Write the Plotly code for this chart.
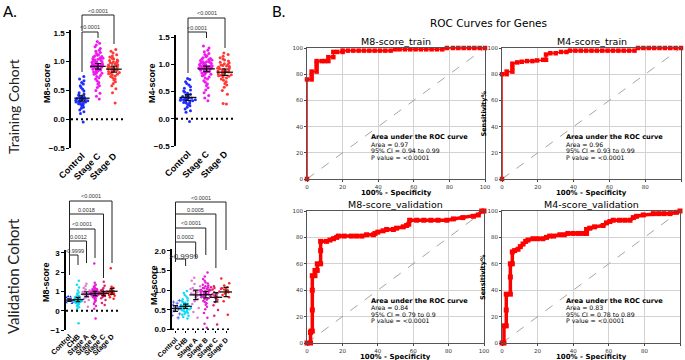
import numpy as np
import plotly.graph_objects as go

W, H = 685, 360
def fx(p): return p / W
def fy(p): return 1 - p / H

# ---------------- data ----------------
train_groups = ["Control", "Stage C", "Stage D"]
val_groups = ["Control", "CHB", "Stage A", "Stage B", "Stage C", "Stage D"]

tr_m8_control = [-0.05, 0.10, 0.13, 0.16, 0.19, 0.21, 0.23, 0.25, 0.26, 0.27, 0.28, 0.29, 0.30, 0.30, 0.31, 0.32, 0.32, 0.33, 0.33, 0.34, 0.34, 0.35, 0.35, 0.36, 0.36, 0.37, 0.38, 0.39, 0.40, 0.42, 0.44, 0.46, 0.49, 0.52, 0.55, 0.58, 0.61, 0.64, 0.67, 0.70, 0.74]
tr_m8_stagec = [0.35, 0.40, 0.45, 0.50, 0.55, 0.58, 0.61, 0.64, 0.67, 0.70, 0.72, 0.74, 0.76, 0.78, 0.79, 0.80, 0.81, 0.82, 0.83, 0.84, 0.85, 0.86, 0.86, 0.87, 0.88, 0.88, 0.89, 0.90, 0.90, 0.91, 0.91, 0.92, 0.92, 0.93, 0.93, 0.94, 0.94, 0.95, 0.95, 0.96, 0.97, 0.97, 0.98, 0.99, 0.99, 1.00, 1.00, 1.01, 1.02, 1.03, 1.04, 1.05, 1.05, 1.06, 1.07, 1.08, 1.09, 1.10, 1.11, 1.12, 1.14, 1.16, 1.18, 1.20, 1.23, 1.26, 1.29, 1.32, 1.35]
tr_m8_staged = [0.28, 0.46, 0.53, 0.58, 0.62, 0.65, 0.68, 0.70, 0.72, 0.74, 0.75, 0.77, 0.78, 0.79, 0.80, 0.81, 0.82, 0.83, 0.84, 0.85, 0.85, 0.86, 0.87, 0.88, 0.88, 0.89, 0.90, 0.90, 0.91, 0.92, 0.93, 0.94, 0.95, 0.96, 0.97, 0.98, 0.99, 1.00, 1.01, 1.02, 1.03, 1.05, 1.06, 1.08, 1.10, 1.12, 1.15, 1.18, 1.21]

tr_m4_control = [-0.05, 0.12, 0.15, 0.18, 0.21, 0.24, 0.26, 0.28, 0.29, 0.30, 0.31, 0.32, 0.33, 0.34, 0.35, 0.35, 0.36, 0.37, 0.37, 0.38, 0.38, 0.39, 0.40, 0.41, 0.42, 0.43, 0.45, 0.47, 0.49, 0.51, 0.53, 0.56, 0.59, 0.62, 0.65, 0.68, 0.72, 0.74]
tr_m4_stagec = [0.33, 0.38, 0.43, 0.48, 0.53, 0.57, 0.61, 0.64, 0.67, 0.70, 0.73, 0.75, 0.77, 0.79, 0.80, 0.82, 0.83, 0.84, 0.85, 0.86, 0.87, 0.88, 0.89, 0.89, 0.90, 0.90, 0.91, 0.92, 0.92, 0.93, 0.93, 0.94, 0.94, 0.95, 0.95, 0.96, 0.96, 0.97, 0.97, 0.98, 0.98, 0.99, 1.00, 1.00, 1.01, 1.02, 1.02, 1.03, 1.04, 1.05, 1.05, 1.06, 1.07, 1.08, 1.09, 1.10, 1.11, 1.12, 1.14, 1.16, 1.18, 1.20, 1.23, 1.26, 1.30, 1.34]
tr_m4_staged = [0.27, 0.28, 0.45, 0.52, 0.58, 0.62, 0.65, 0.68, 0.71, 0.73, 0.75, 0.77, 0.78, 0.79, 0.80, 0.81, 0.82, 0.83, 0.84, 0.85, 0.86, 0.87, 0.87, 0.88, 0.89, 0.90, 0.90, 0.91, 0.92, 0.93, 0.94, 0.95, 0.96, 0.97, 0.98, 0.99, 1.00, 1.01, 1.03, 1.04, 1.06, 1.08, 1.10, 1.12, 1.15, 1.18, 1.21]

va_m8_control = [0.38, 0.42, 0.45, 0.47, 0.50, 0.52, 0.55, 0.58, 0.62, 0.68, 0.72, 0.75]
va_m8_chb = [-0.65, 0.10, 0.18, 0.25, 0.30, 0.33, 0.36, 0.38, 0.40, 0.42, 0.44, 0.45, 0.46, 0.48, 0.49, 0.50, 0.51, 0.52, 0.53, 0.54, 0.55, 0.56, 0.57, 0.58, 0.60, 0.61, 0.62, 0.64, 0.66, 0.68, 0.70, 0.72, 0.75, 0.78, 0.82, 0.88, 0.95, 1.05, 1.20, 1.35, 1.55]
va_m8_stagea = [0.20, 0.45, 0.55, 0.62, 0.68, 0.72, 0.76, 0.80, 0.83, 0.86, 0.88, 0.91, 0.94, 0.97, 1.00, 1.05, 1.10, 1.18, 1.28, 1.40]
va_m8_stageb = [-0.40, 0.10, 0.25, 0.35, 0.45, 0.52, 0.58, 0.62, 0.66, 0.70, 0.73, 0.75, 0.77, 0.79, 0.81, 0.83, 0.84, 0.85, 0.86, 0.87, 0.88, 0.89, 0.90, 0.91, 0.92, 0.93, 0.94, 0.95, 0.96, 0.97, 0.98, 0.99, 1.00, 1.01, 1.02, 1.04, 1.05, 1.07, 1.09, 1.11, 1.13, 1.16, 1.19, 1.23, 1.28, 1.35, 1.45, 2.45]
va_m8_stagec = [0.30, 0.40, 0.55, 0.65, 0.72, 0.77, 0.80, 0.83, 0.86, 0.88, 0.90, 0.92, 0.94, 0.96, 0.98, 1.00, 1.03, 1.06, 1.10, 1.18, 1.30, 1.50]
va_m8_staged = [0.62, 0.70, 0.78, 0.82, 0.86, 0.88, 0.90, 0.92, 0.94, 0.96, 0.98, 1.00, 1.02, 1.05, 1.10, 1.18, 1.25, 2.20]

va_m4_control = [0.30, 0.36, 0.40, 0.44, 0.48, 0.52, 0.55, 0.58, 0.61, 0.64, 0.67, 0.70, 0.74]
va_m4_chb = [0.28, 0.32, 0.35, 0.38, 0.40, 0.42, 0.44, 0.46, 0.47, 0.49, 0.50, 0.51, 0.52, 0.53, 0.54, 0.55, 0.56, 0.57, 0.58, 0.59, 0.60, 0.61, 0.62, 0.63, 0.64, 0.65, 0.66, 0.68, 0.70, 0.72, 0.74, 0.77, 0.80, 0.84, 0.88, 0.93, 0.98]
va_m4_stagea = [0.30, 0.45, 0.55, 0.65, 0.72, 0.78, 0.82, 0.86, 0.89, 0.92, 0.95, 0.98, 1.00, 1.03, 1.06, 1.10, 1.16, 1.24, 1.32]
va_m4_stageb = [0.05, 0.15, 0.30, 0.42, 0.52, 0.58, 0.63, 0.67, 0.70, 0.73, 0.76, 0.78, 0.80, 0.82, 0.84, 0.85, 0.86, 0.87, 0.88, 0.89, 0.90, 0.91, 0.92, 0.93, 0.94, 0.95, 0.96, 0.97, 0.98, 0.99, 1.00, 1.01, 1.02, 1.03, 1.05, 1.06, 1.08, 1.10, 1.12, 1.14, 1.17, 1.20, 1.24, 1.29, 1.35, 1.45]
va_m4_stagec = [0.13, 0.35, 0.50, 0.62, 0.70, 0.76, 0.80, 0.84, 0.87, 0.90, 0.92, 0.95, 0.97, 1.00, 1.02, 1.04, 1.06, 1.08, 1.10]
va_m4_staged = [0.38, 0.72, 0.82, 0.88, 0.92, 0.95, 0.98, 1.00, 1.02, 1.05, 1.08, 1.12, 1.18, 1.30]

# ROC curves (100% - specificity, sensitivity %)
roc_m8_train_fpr = [0, 0, 2.6, 2.6, 2.6, 5.4, 5.4, 5.4, 5.4, 8.2, 10, 12, 12, 14.8, 14.8, 17, 20, 20, 23, 26, 29, 32, 35, 38, 41, 44, 47, 49.6, 52, 55, 58, 61, 64, 67, 70, 73, 76, 78.6, 82, 85, 88, 91, 94, 97, 100]
roc_m8_train_tpr = [0, 76, 76, 79, 82, 82, 85, 88, 90, 90, 90, 90, 93, 93, 97, 97, 97, 98, 98, 98, 98, 98, 98, 98, 98, 98, 98, 99, 99, 99, 99, 99, 99, 99, 99, 99, 99, 100, 100, 100, 100, 100, 100, 100, 100]
roc_m4_train_fpr = [0, 0, 2.6, 2.6, 5.8, 5.8, 5.8, 8.5, 11, 14, 17, 19.6, 23, 24.6, 24.6, 27, 30, 33, 36, 38, 41, 44, 47, 50, 53, 56, 59, 62, 65, 68, 71, 74, 76, 79, 82, 85, 88, 91, 94, 97, 100]
roc_m4_train_tpr = [0, 80, 80, 82, 82, 85, 88, 89, 89.5, 90, 90, 90.5, 91, 91, 95, 96, 96, 97, 97, 98, 98, 98, 98, 98, 98, 98, 98, 98, 98, 98, 98, 98, 100, 100, 100, 100, 100, 100, 100, 100, 100]
roc_m8_val_fpr = [0, 2, 2, 2.3, 3, 3, 3, 3, 4.5, 4.5, 5.8, 5.8, 7.7, 7.7, 7.7, 11, 13, 15, 16.8, 17.7, 21, 25, 28, 31, 33.7, 37.5, 38.4, 40, 43, 45, 48.8, 50.6, 54.4, 56.3, 57.5, 58, 62, 66, 70, 74, 79, 82.7, 88, 94, 96.8, 98.7, 100]
roc_m8_val_tpr = [0, 0, 8, 9, 9, 25, 40, 51, 51, 55, 55, 60, 60, 70, 77, 77, 78, 79, 80, 81, 81, 81, 81, 81, 82, 82, 83, 84, 85, 86, 86, 87, 88, 89, 90, 93, 93, 93, 93, 93, 93, 94, 95, 96, 97, 100, 100]
roc_m4_val_fpr = [0, 1.1, 1.1, 2.4, 2.4, 2.4, 4.7, 4.7, 4.7, 5.8, 5.8, 7.1, 9, 10.3, 11.8, 13.3, 14.6, 17.4, 20, 23, 25, 26.8, 29, 32.5, 35, 37, 40, 43, 45.6, 47.5, 47.5, 49.3, 52, 56.8, 58.7, 60.6, 62.5, 66, 69, 71.9, 73.8, 75.6, 79.4, 85, 88, 91, 94.4, 98, 100]
roc_m4_val_tpr = [0, 0, 13, 13, 25, 37, 37, 50, 60, 60, 69, 70, 71, 73, 75, 77, 78, 79, 79, 79, 80, 81, 81, 82, 82, 83, 83, 83, 83, 83, 86, 87, 88, 89, 91, 92, 93, 93, 93, 93, 95, 96, 97, 98, 98, 98, 98, 99, 100]

roc_stats = {
    "M8-score_train": ("0.97", "0.94 to 0.99"),
    "M4-score_train": ("0.96", "0.93 to 0.99"),
    "M8-score_validation": ("0.84", "0.79 to 0.9"),
    "M4-score_validation": ("0.83", "0.78 to 0.89"),
}

train_colors = ["#1f2dff", "#f019f0", "#ff3838"]
val_colors = ["#1a22f0", "#12dcf5", "#e07ad6", "#e61ed6", "#e2206e", "#ff2020"]

# ---------------- figure ----------------
fig = go.Figure()
layout_axes = {}
shapes = []
annotations = []

def axnames(n):
    return ("x" if n == 1 else f"x{n}", "y" if n == 1 else f"y{n}",
            "xaxis" if n == 1 else f"xaxis{n}", "yaxis" if n == 1 else f"yaxis{n}")

DOTFONT = "Liberation Sans, Arial, sans-serif"
MPLFONT = "DejaVu Sans, sans-serif"

def add_dot_panel(n, xdom, ydom, xrange, yrange, groups, datasets, colors, symbols,
                  ytickvals, ytickfmt, box_w, msize, mean_w, cat_font, ytitle, ytitle_xy,
                  brackets, xticks=False):
    xa, ya, xk, yk = axnames(n)
    for i, (vals, c, s) in enumerate(zip(datasets, colors, symbols)):
        fig.add_trace(go.Box(x=[i] * len(vals), y=vals, xaxis=xa, yaxis=ya, boxpoints="all",
                             jitter=1, pointpos=0, width=box_w, fillcolor="rgba(0,0,0,0)",
                             line=dict(color="rgba(0,0,0,0)", width=0),
                             marker=dict(size=msize, color=c, symbol=s,
                                         line=dict(width=0.6 if "open" in s else 0, color=c)),
                             hoverinfo="skip", showlegend=False))
        arr = np.array(vals)
        m = arr.mean()
        ci = 1.96 * arr.std(ddof=1) / np.sqrt(len(arr))
        fig.add_trace(go.Scatter(x=[i], y=[m], xaxis=xa, yaxis=ya, mode="markers",
                                 marker=dict(symbol="line-ew", size=mean_w,
                                             line=dict(width=1.3, color="#111")),
                                 error_y=dict(type="data", array=[ci], width=mean_w * 0.28,
                                              thickness=1.2, color="#111"),
                                 showlegend=False, hoverinfo="skip"))
    layout_axes[xk] = dict(domain=[fx(xdom[0]), fx(xdom[1])], range=xrange, anchor=ya,
                           automargin=False,
                           showline=False, showgrid=False, zeroline=False, tickmode="array",
                           tickvals=list(range(len(groups))),
                           ticktext=[f"<b>{g}</b>" for g in groups], tickangle=-45,
                           tickfont=dict(family=DOTFONT, size=cat_font, color="black"),
                           ticks="outside" if xticks else "", ticklen=3, tickwidth=1.2,
                           tickcolor="black")
    layout_axes[yk] = dict(domain=[fy(ydom[1]), fy(ydom[0])], range=yrange, anchor=xa,
                           automargin=False,
                           showline=True, linecolor="black", linewidth=1.5, ticks="outside",
                           ticklen=3, tickwidth=1.2, tickcolor="black", tickmode="array",
                           tickvals=ytickvals, tickformat=ytickfmt, showgrid=False,
                           zeroline=False,
                           tickfont=dict(family=DOTFONT, size=8, color="black", weight="bold"))
    # dotted zero line
    shapes.append(dict(type="line", xref=f"{xa} domain", x0=0, x1=1, yref=ya, y0=0, y1=0,
                       line=dict(color="black", width=2, dash="2px,3px"), layer="above"))
    annotations.append(dict(text=f"<b>{ytitle}</b>", x=fx(ytitle_xy[0]), y=fy(ytitle_xy[1]),
                            xref="paper", yref="paper", showarrow=False, textangle=-90,
                            font=dict(family=DOTFONT, size=9, color="black")))
    for (i0, i1, yl, yleft, yright, txt, yt, fs) in brackets:
        shapes.append(dict(type="path", xref=xa, yref="paper",
                           path=f"M {i0},{fy(yleft)} L {i0},{fy(yl)} L {i1},{fy(yl)} L {i1},{fy(yright)}",
                           line=dict(color="#222", width=1)))
        if txt:
            annotations.append(dict(text=txt, x=(i0 + i1) / 2, y=fy(yt), xref=xa, yref="paper",
                                    showarrow=False,
                                    font=dict(family=DOTFONT, size=fs, color="#333")))

# Training M8
add_dot_panel(1, (71, 126), (30, 148), [(71 - 82) / 16, (126 - 82) / 16], [-0.5, 1.55],
              train_groups, [tr_m8_control, tr_m8_stagec, tr_m8_staged], train_colors,
              ["circle"] * 3, [-0.5, 0, 0.5, 1.0, 1.5], ".1f", 0.9, 3, 11, 9,
              "M8-score", (47, 83),
              [(0, 1, 32, 72, 38, "&lt;0.0001", 27, 5.5),
               (0, 2, 15, 31, 44, "&lt;0.0001", 11, 5.5)])
# Training M4
add_dot_panel(2, (176, 233), (35, 146), [(176 - 188) / 18.5, (233 - 188) / 18.5], [-0.5, 1.54],
              train_groups, [tr_m4_control, tr_m4_stagec, tr_m4_staged], train_colors,
              ["circle"] * 3, [-0.5, 0, 0.5, 1.0, 1.5], ".1f", 0.9, 3, 12, 9,
              "M4-score", (152, 83),
              [(0, 1, 32, 73, 38, "&lt;0.0001", 28, 5.5),
               (0, 2, 18, 32, 48, "&lt;0.0001", 13, 5.5)])
# Validation M8
add_dot_panel(3, (66, 119), (250, 330), [(66 - 69.5) / 8.5, (119 - 69.5) / 8.5], [-1, 3.15],
              val_groups,
              [va_m8_control, va_m8_chb, va_m8_stagea, va_m8_stageb, va_m8_stagec, va_m8_staged],
              val_colors, ["triangle-up"] + ["circle"] * 5, [-1, 0, 1, 2, 3], "d", 1.1, 2.5, 8, 7.2,
              "M8-score", (46, 282),
              [(0, 1, 255, 275, 265, "&gt;0.9999", 251, 5.5),
               (0, 2, 241, 275, 263, "0.0012", 237, 5.5),
               (0, 3, 229, 275, 258, "&lt;0.0001", 224, 5.5),
               (0, 4, 214, 275, 278, "0.0018", 210, 5.5),
               (0, 5, 201, 275, 263, "&lt;0.0001", 196, 5.5)])
# Validation M4
add_dot_panel(4, (172, 232), (249, 330), [(172 - 175.5) / 10.1, (232 - 175.5) / 10.1], [-0.01, 2.05],
              val_groups,
              [va_m4_control, va_m4_chb, va_m4_stagea, va_m4_stageb, va_m4_stagec, va_m4_staged],
              val_colors, ["cross-thin-open"] + ["circle"] * 5, [0, 0.5, 1.0, 1.5, 2.0], ".1f", 1.2, 2.5, 9, 7.0,
              "M4-score", (154, 285),
              [(0, 1, 259, 262, 266, "", 256, 5.5),
               (0, 2, 242, 262, 258, "0.0002", 237, 5.5),
               (0, 3, 228, 262, 255, "&lt;0.0001", 223, 5.5),
               (0, 4, 214, 262, 268, "0.0005", 210, 5.5),
               (0, 5, 202, 262, 250, "&lt;0.0001", 198, 5.5)],
              xticks=True)
layout_axes["xaxis4"]["ticklen"] = 2
annotations.append(dict(text="&gt;0.9999", x=fx(184), y=fy(256), xref="paper", yref="paper",
                        showarrow=False, font=dict(family=DOTFONT, size=8, color="#333")))

def add_roc_panel(n, xdom, ydom, fpr, tpr, title, lw, ms, show_ylabel):
    xa, ya, xk, yk = axnames(n)
    fig.add_trace(go.Scatter(x=[0, 100], y=[0, 100], xaxis=xa, yaxis=ya, mode="lines",
                             line=dict(color="#9a9a9a", width=0.9, dash="dash"),
                             showlegend=False, hoverinfo="skip"))
    fig.add_trace(go.Scatter(x=fpr, y=tpr, xaxis=xa, yaxis=ya, mode="lines+markers",
                             line=dict(color="#ff0000", width=lw),
                             marker=dict(symbol="square", size=ms, color="#ff0000"),
                             cliponaxis=False, showlegend=False, hoverinfo="skip"))
    common = dict(range=[0, 100], tickmode="array", tickvals=[0, 20, 40, 60, 80, 100],
                  automargin=False,
                  showgrid=True, gridcolor="#d2d2d2", gridwidth=1, zeroline=False,
                  showline=True, mirror=True, linecolor="#555", linewidth=0.8,
                  ticks="outside", ticklen=2, tickwidth=0.8, tickcolor="#444",
                  tickfont=dict(family=MPLFONT, size=5.5, color="#333"))
    layout_axes[xk] = dict(domain=[fx(xdom[0]), fx(xdom[1])], anchor=ya, **common)
    layout_axes[yk] = dict(domain=[fy(ydom[1]), fy(ydom[0])], anchor=xa, **common)
    cx = (xdom[0] + xdom[1]) / 2
    annotations.append(dict(text=title, x=fx(cx), y=fy(ydom[0] - 7), xref="paper", yref="paper",
                            showarrow=False, font=dict(family=MPLFONT, size=9.5, color="black")))
    annotations.append(dict(text="<b>100% - Specificity</b>", x=fx(cx), y=fy(ydom[1] + 13.5),
                            xref="paper", yref="paper", showarrow=False,
                            font=dict(family=MPLFONT, size=7, color="black")))
    area, ci = roc_stats[title]
    lines = [("<b>Area under the ROC curve</b>", 31.8, 6.6), (f"Area = {area}", 26.7, 6.2),
             (f"95% CI = {ci}", 21.7, 6.2), ("P value = &lt;0.0001", 16.7, 6.2)]
    for t, yy, fs in lines:
        annotations.append(dict(text=t, x=34.8, y=yy, xref=xa, yref=ya, xanchor="left",
                                yanchor="middle", showarrow=False,
                                font=dict(family=MPLFONT, size=fs, color="black")))
    if show_ylabel:
        annotations.append(dict(text="<b>Sensitivity%</b>", x=fx(xdom[0] - 19),
                                y=fy((ydom[0] + ydom[1]) / 2), xref="paper", yref="paper",
                                showarrow=False, textangle=-90,
                                font=dict(family=MPLFONT, size=6.5, color="black")))

add_roc_panel(5, (307, 485), (48, 179), roc_m8_train_fpr, roc_m8_train_tpr, "M8-score_train", 1.6, 4.5, False)
add_roc_panel(6, (502, 681), (48, 179), roc_m4_train_fpr, roc_m4_train_tpr, "M4-score_train", 1.6, 4.5, True)
add_roc_panel(7, (307, 484), (211, 343), roc_m8_val_fpr, roc_m8_val_tpr, "M8-score_validation", 3.5, 5, False)
add_roc_panel(8, (502, 680), (211, 343), roc_m4_val_fpr, roc_m4_val_tpr, "M4-score_validation", 3.5, 5, True)

# panel labels and headings
annotations += [
    dict(text="A.", x=fx(1), y=fy(11), xref="paper", yref="paper", xanchor="left", showarrow=False,
         font=dict(family="Lato, sans-serif", size=15, color="black")),
    dict(text="B.", x=fx(270), y=fy(11), xref="paper", yref="paper", xanchor="left", showarrow=False,
         font=dict(family="Lato, sans-serif", size=15, color="black")),
    dict(text="Training Cohort", x=fx(13), y=fy(107), xref="paper", yref="paper", showarrow=False,
         textangle=-90, font=dict(family="Lato, sans-serif", size=14, color="#222")),
    dict(text="Validation Cohort", x=fx(13), y=fy(276), xref="paper", yref="paper", showarrow=False,
         textangle=-90, font=dict(family="Lato, sans-serif", size=15, color="#222")),
    dict(text="ROC Curves for Genes", x=fx(488), y=fy(23), xref="paper", yref="paper",
         showarrow=False, font=dict(family=MPLFONT, size=10.5, color="black")),
]
for a in annotations:
    a.setdefault("xanchor", "center")
    a.setdefault("yanchor", "middle")

fig.update_layout(template="none", width=W, height=H, margin=dict(l=0, r=0, t=0, b=0, pad=0),
                  autosize=False, paper_bgcolor="white", plot_bgcolor="white", showlegend=False,
                  boxmode="overlay", shapes=shapes, annotations=annotations, **layout_axes)

fig.write_html("out.html", config={"displayModeBar": False},
               post_script="document.body.style.margin='0';document.body.style.padding='0';"
                           "document.body.style.overflow='hidden';")
